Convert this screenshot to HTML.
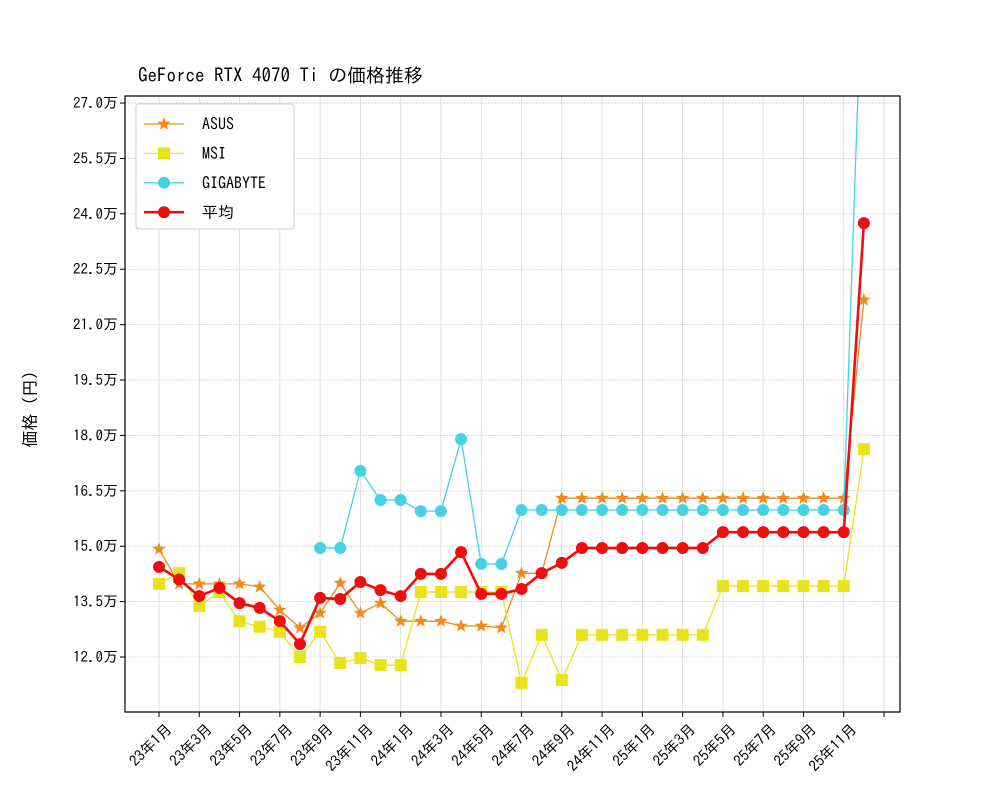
<!DOCTYPE html>
<html><head><meta charset="utf-8"><style>
body{margin:0;background:#fff}
svg{display:block;font-family:"IPAGothic","Liberation Mono","Noto Sans CJK JP",monospace}
</style></head><body>
<svg id="c" width="1000" height="800"></svg>
<script>
const months=["23年1月","23年3月","23年5月","23年7月","23年9月","23年11月","24年1月","24年3月","24年5月","24年7月","24年9月","24年11月","25年1月","25年3月","25年5月","25年7月","25年9月","25年11月",""];
const yTicks=[12.0,13.5,15.0,16.5,18.0,19.5,21.0,22.5,24.0,25.5,27.0];
const asus=[14.92,13.98,13.98,13.98,13.98,13.9,13.27,12.79,13.19,14.0,13.19,13.46,12.97,12.97,12.97,12.84,12.84,12.79,14.27,14.27,16.3,16.3,16.3,16.3,16.3,16.3,16.3,16.3,16.3,16.3,16.3,16.3,16.3,16.3,16.3,21.67];
const msi=[13.98,14.27,13.38,13.76,12.97,12.82,12.68,12.0,12.68,11.84,11.97,11.78,11.78,13.76,13.76,13.76,13.76,13.76,11.3,12.6,11.38,12.6,12.6,12.6,12.6,12.6,12.6,12.6,13.92,13.92,13.92,13.92,13.92,13.92,13.92,17.63];
const giga=[null,null,null,null,null,null,null,null,14.95,14.95,17.04,16.25,16.25,15.95,15.95,17.9,14.52,14.52,15.98,15.98,15.98,15.98,15.98,15.98,15.98,15.98,15.98,15.98,15.98,15.98,15.98,15.98,15.98,15.98,15.98,32.0];
const avg=[14.44,14.1,13.65,13.87,13.46,13.33,12.97,12.35,13.6,13.57,14.03,13.81,13.65,14.25,14.25,14.84,13.71,13.71,13.84,14.27,14.55,14.95,14.95,14.95,14.95,14.95,14.95,14.95,15.38,15.38,15.38,15.38,15.38,15.38,15.38,23.75];

const NS="http://www.w3.org/2000/svg";
const svg=document.getElementById('c');
const L=125,R=900,T=96,B=712;
const x=i=>159+i*20.14;
const y=v=>657-(v-12)*36.93;
function mk(t,a,p){const e=document.createElementNS(NS,t);for(const k in a)e.setAttribute(k,a[k]);(p||svg).appendChild(e);return e;}
const defs=mk('defs',{});const cp=mk('clipPath',{id:'clip'},defs);mk('rect',{x:L,y:T,width:R-L,height:B-T},cp);

// grid
const grid=mk('g',{});


for(let k=0;k<months.length;k++){const xx=x(2*k);mk('line',{x1:xx,x2:xx,y1:T,y2:B,stroke:'#d8d8d8','stroke-width':0.8},grid);}
yTicks.forEach(v=>{mk('line',{x1:L,x2:R,y1:y(v),y2:y(v),stroke:'#d0d0d0','stroke-width':0.8,'stroke-dasharray':'2,1'},grid);});

// axes ticks & labels
const xa=mk('g',{});


months.forEach((m,k)=>{const xx=x(2*k);mk('line',{x1:xx,x2:xx,y1:B,y2:B+5,stroke:'#000','stroke-width':1},xa);
 if(m){const t=mk('text',{x:0,y:0,'font-size':15,'text-anchor':'end',transform:`translate(${xx+14},${B+18}) rotate(-45)`},xa);t.textContent=m;}});
const ya=mk('g',{});


yTicks.forEach(v=>{mk('line',{x1:L-5,x2:L,y1:y(v),y2:y(v),stroke:'#000'},ya);
 const t=mk('text',{x:L-7,y:y(v)+5,'font-size':15,'text-anchor':'end'},ya);t.textContent=v.toFixed(1)+'万';});

function star(cx,cy,r){let p=[];for(let i=0;i<10;i++){const a=-Math.PI/2+i*Math.PI/5;const rr=i%2?r*0.42:r;p.push((cx+rr*Math.cos(a)).toFixed(1)+','+(cy+rr*Math.sin(a)).toFixed(1));}return p.join(' ');}
function marker(g,type,cx,cy,col){
 if(type==='star')mk('polygon',{points:star(cx,cy,7),fill:col},g);
 else if(type==='sq')mk('rect',{x:cx-6,y:cy-6,width:12,height:12,fill:col},g);
 else mk('circle',{cx:cx,cy:cy,r:6,fill:col},g);
}
function series(name,data,col,w,type){
 const g=mk('g',{'clip-path':'url(#clip)'});
 
 
 let d='',pen=false;
 data.forEach((v,i)=>{if(v==null){pen=false;return;}d+=(pen?'L':'M')+x(i)+','+y(v);pen=true;});
 mk('path',{d:d,fill:'none',stroke:col,'stroke-width':w,'stroke-linejoin':'round'},g);
 data.forEach((v,i)=>{if(v!=null)marker(g,type,x(i),y(v),col);});
}
series('asus-series',asus,'#f28a1c',1.3,'star');
series('msi-series',msi,'#e8e41c',1.3,'sq');
series('gigabyte-series',giga,'#45d3e3',1.3,'circ');
series('average-series',avg,'#f00d0d',2.6,'circ');

mk('rect',{x:L,y:T,width:R-L,height:B-T,fill:'none',stroke:'#000','stroke-width':1.2});

// legend
const lg=mk('g',{});


mk('rect',{x:136,y:104,width:158,height:125,rx:3,fill:'#fff',stroke:'#ccc'},lg);
const ents=[['ASUS','#f28a1c','star',1.3],['MSI','#e8e41c','sq',1.3],['GIGABYTE','#45d3e3','circ',1.3],['平均','#f00d0d','circ',2.6]];
ents.forEach((e,i)=>{const yy=124+i*29.4;const eg=mk('g',{},lg);
 
 
 mk('line',{x1:144,x2:184,y1:yy,y2:yy,stroke:e[1],'stroke-width':e[3]},eg);
 marker(eg,e[2],164,yy,e[1]);
 const t=mk('text',{x:202,y:yy+6,'font-size':16},eg);t.textContent=e[0];});

const ti=mk('text',{x:138,y:82,'font-size':19});ti.textContent='GeForce RTX 4070 Ti の価格推移';


const yl=mk('text',{x:0,y:0,'font-size':17,'text-anchor':'middle',transform:'translate(36,405) rotate(-90)'});yl.textContent='価格（円）';


</script>
</body></html>
